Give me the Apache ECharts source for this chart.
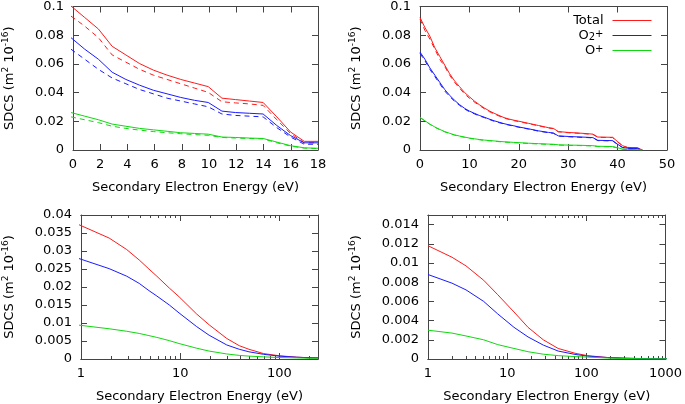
<!DOCTYPE html>
<html><head><meta charset="utf-8">
<script src="https://cdn.jsdelivr.net/npm/echarts@6/dist/echarts.min.js"></script>
<style>html,body{margin:0;padding:0;background:#fff}
#wrap{position:relative;width:685px;height:404px}
#axes,#plot{position:absolute;left:0;top:0;width:685px;height:404px}</style>
</head><body><div id="wrap"><div id="axes"></div><div id="plot"></div></div>
<script>
// ---------- DATA ----------
// Panel 1 (top-left): energy 0..18 eV, solid and dashed curves
const p1Energy = [0,1,2,3,4,5,6,7,8,9,10,11,12,13,14,15,16,17,18];
const p1TotalSolid = [0.100,0.092,0.084,0.072,0.066,0.060,0.0555,0.052,0.049,0.0465,0.044,0.036,0.035,0.034,0.033,0.023,0.0125,0.006,0.006];
const p1TotalDash  = [0.093,0.086,0.078,0.066,0.061,0.056,0.052,0.049,0.046,0.043,0.040,0.0335,0.0327,0.032,0.031,0.021,0.0115,0.005,0.005];
const p1O2Solid    = [0.078,0.070,0.063,0.054,0.049,0.045,0.0415,0.039,0.0365,0.0345,0.033,0.027,0.026,0.0255,0.025,0.017,0.010,0.005,0.005];
const p1O2Dash     = [0.070,0.063,0.056,0.050,0.046,0.042,0.039,0.036,0.034,0.032,0.030,0.025,0.024,0.0235,0.023,0.0155,0.009,0.004,0.004];
const p1OSolid     = [0.026,0.0235,0.021,0.018,0.0165,0.015,0.014,0.013,0.012,0.0115,0.011,0.009,0.0087,0.0083,0.008,0.0055,0.003,0.0015,0.0012];
const p1ODash      = [0.023,0.021,0.019,0.0165,0.015,0.0138,0.0128,0.012,0.0113,0.0107,0.0102,0.0087,0.0083,0.008,0.0077,0.005,0.0027,0.0013,0.001];

// Panel 2 (top-right): energy 0..45 eV
const p2Energy = [0,1,2,3,4,5,6,7,8,9,10,11,12,13,14,15,16,17,18,19,20,22,24,26,27,28,30,32,34,35,36,39,40,41,42,44,45];
const p2TotalSolid = [0.092,0.085,0.079,0.071,0.065,0.059,0.053,0.048,0.044,0.040,0.037,0.034,0.0315,0.0292,0.0272,0.0255,0.024,0.0225,0.0215,0.0207,0.020,0.0185,0.017,0.0155,0.015,0.0128,0.0122,0.0118,0.0113,0.011,0.009,0.0088,0.0058,0.003,0.0018,0.0016,0];
const p2TotalDash  = [0.091,0.083,0.077,0.070,0.063,0.058,0.052,0.047,0.043,0.039,0.036,0.0333,0.031,0.0287,0.0267,0.025,0.0236,0.0222,0.0212,0.0204,0.0197,0.0183,0.0168,0.0153,0.0148,0.0126,0.012,0.0116,0.0111,0.0108,0.0088,0.0086,0.0056,0.0029,0.0017,0.0015,0];
const p2O2Solid    = [0.068,0.063,0.057,0.052,0.047,0.042,0.038,0.0345,0.0315,0.029,0.027,0.0255,0.024,0.0228,0.0215,0.0203,0.0193,0.0183,0.0175,0.0168,0.016,0.0147,0.0133,0.0122,0.0118,0.0098,0.0094,0.0091,0.0088,0.0086,0.0067,0.0065,0.004,0.0018,0.0012,0.001,0];
const p2O2Dash     = [0.067,0.062,0.056,0.051,0.046,0.041,0.0372,0.0338,0.031,0.0285,0.0266,0.0251,0.0237,0.0225,0.0212,0.020,0.019,0.0181,0.0173,0.0166,0.0158,0.0145,0.0131,0.012,0.0116,0.0096,0.0092,0.0089,0.0086,0.0084,0.0065,0.0063,0.0038,0.0017,0.0011,0.0009,0];
const p2OSolid     = [0.0227,0.0203,0.018,0.016,0.0143,0.0128,0.0116,0.0105,0.0097,0.009,0.0083,0.0078,0.0073,0.0069,0.0066,0.0063,0.006,0.0057,0.0055,0.0053,0.0051,0.0047,0.0044,0.0041,0.004,0.0036,0.0034,0.0033,0.0031,0.003,0.0026,0.0024,0.0016,0.0006,0.0004,0.0002,0];
const p2ODash      = [0.0225,0.0201,0.0178,0.0158,0.0141,0.0126,0.0114,0.0103,0.0095,0.0088,0.0081,0.0076,0.0071,0.0067,0.0064,0.0061,0.0058,0.0055,0.0053,0.0051,0.0049,0.0045,0.0042,0.0039,0.0038,0.0034,0.0032,0.0031,0.0029,0.0028,0.0024,0.0022,0.0014,0.0005,0.0003,0.0001,0];

// Panel 3 (bottom-left): log energy 1..245 eV
const p3Energy = [1,2,3,4,5,6,8,10,15,20,30,40,50,70,100,150,200,245];
const p3Total  = [0.0373,0.0336,0.0304,0.0275,0.025,0.023,0.0197,0.0173,0.0125,0.0095,0.0057,0.0037,0.0027,0.0015,0.0009,0.0005,0.00035,0.0003];
const p3O2     = [0.0279,0.0251,0.023,0.021,0.019,0.0175,0.015,0.0128,0.009,0.0066,0.0039,0.0027,0.002,0.0013,0.0008,0.0005,0.00035,0.0003];
const p3O      = [0.0094,0.0084,0.0077,0.0071,0.0065,0.006,0.0051,0.0043,0.003,0.0022,0.0014,0.001,0.0008,0.0006,0.0004,0.0003,0.0002,0.0002];

// Panel 4 (bottom-right): log energy 1..1000 eV
const p4Energy = [1,2,3,5,7.5,12,18,28,43,70,100,180,300,500,1000];
const p4Total  = [0.0118,0.0106,0.0097,0.0082,0.0067,0.0049,0.0033,0.002,0.0011,0.0006,0.00035,0.00015,0.00008,0.00004,0.00001];
const p4O2     = [0.0088,0.0079,0.0072,0.006,0.0047,0.0033,0.0023,0.00145,0.00083,0.00048,0.0003,0.00015,0.00008,0.00004,0.00001];
const p4O      = [0.003,0.0027,0.0024,0.002,0.0015,0.0011,0.00076,0.0005,0.00035,0.00025,0.0002,0.0001,0.00005,0.00003,0.00001];

const legendNames = ['Total','O2+','O+'];
const xTitle = 'Secondary Electron Energy (eV)';
const yTitle = 'SDCS (m{sup|2} 10{sup|-16})';

// ---------- STYLE / LAYOUT ----------
const FONT = 'DejaVu Sans';
const AX = '#444';
const COL = {Total:'#ff1a1a','O2+':'#1a1aff','O+':'#10d810'};
const grids = [
  {left:71, top:6, width:247, height:144},
  {left:420, top:6, width:247, height:144},
  {left:79, top:215, width:239, height:144},
  {left:428, top:215, width:239, height:144}
];
const xScales = [
  {type:'value', min:0, max:18, interval:2},
  {type:'value', min:0, max:50, interval:10},
  {type:'log', logBase:10, min:1, max:245},
  {type:'log', logBase:10, min:1, max:1000}
];
const yScales = [
  {type:'value', min:0, max:0.1, interval:0.02},
  {type:'value', min:0, max:0.1, interval:0.02},
  {type:'value', min:0, max:0.04, interval:0.005},
  {type:'value', min:0, max:0.015, interval:0.002}
];
const logMaxOf = [null, null, 245, 1000];
const hideXMax = [false, false, true, false];
const hideYMax = [false, false, false, true];
const yGap = [54, 54, 62, 62];

const zip = (xs, ys) => xs.map((x,i)=>[x, ys[i]]);
const numFmt = (v)=>String(Math.round(v*1e6)/1e6);
function minorLogPositions(max){
  const v=[]; for(let d=1; d<=1000; d*=10){ for(let k=2;k<=9;k++){ if(k*d<max) v.push(Math.log10(k*d));} } return v;
}
const mkTick = (len, custom)=>{
  const t = {show:true, inside:true, length:len, lineStyle:{color:AX}};
  if(custom) t.customValues = custom;
  return t;
};
const mkLine = ()=>({show:true, onZero:false, lineStyle:{color:AX, width:1}});

// ---------- instance A: frame, ticks, labels, titles ----------
const axX=[], axY=[];
grids.forEach((g,gi)=>{
  const s = xScales[gi];
  axX.push(Object.assign({gridIndex:gi, position:'bottom', splitLine:{show:false}, axisLine:mkLine(), axisTick:mkTick(6),
    axisLabel:Object.assign({color:'#000', fontSize:13, fontFamily:FONT, margin:8, formatter:numFmt}, hideXMax[gi]?{showMaxLabel:false}:{}),
    name:xTitle, nameLocation:'middle', nameGap:31, nameTextStyle:{fontSize:13, fontFamily:FONT, color:'#000'}}, s));
  axX.push(Object.assign({gridIndex:gi, position:'top', splitLine:{show:false}, axisLine:mkLine(), axisTick:mkTick(6), axisLabel:{show:false}}, s));
  if(logMaxOf[gi]){
    const mp = minorLogPositions(logMaxOf[gi]);
    ['bottom','top'].forEach(p=>axX.push({gridIndex:gi, type:'value', min:0, max:Math.log10(logMaxOf[gi]), position:p,
      splitLine:{show:false}, axisLine:mkLine(), axisTick:mkTick(3, mp), axisLabel:{show:false}}));
  }
  const ys = yScales[gi];
  axY.push(Object.assign({gridIndex:gi, position:'left', splitLine:{show:false}, axisLine:mkLine(), axisTick:mkTick(6),
    axisLabel:Object.assign({color:'#000', fontSize:13, fontFamily:FONT, margin:9, formatter:numFmt}, hideYMax[gi]?{showMaxLabel:false}:{}),
    name:yTitle, nameLocation:'middle', nameGap:yGap[gi],
    nameTextStyle:{fontSize:13, fontFamily:FONT, color:'#000', lineHeight:18,
      rich:{sup:{fontSize:9, lineHeight:9, verticalAlign:'top', fontFamily:FONT, color:'#000'}}}}, ys));
  axY.push(Object.assign({gridIndex:gi, position:'right', splitLine:{show:false}, axisLine:mkLine(), axisTick:mkTick(6), axisLabel:{show:false}}, ys));
});
const chartA = echarts.init(document.getElementById('axes'));
chartA.setOption({animation:false, grid:grids.map(g=>Object.assign({}, g)), xAxis:axX, yAxis:axY});

// ---------- instance B: curves and legend ----------
const series = [];
function addSeries(gi, name, xs, ys, dashed){
  series.push({
    type:'line', name:name, xAxisIndex:gi, yAxisIndex:gi,
    data:zip(xs, ys), symbol:'none', showSymbol:false, silent:true,
    lineStyle:{color:COL[name], width:1, type: dashed?[5,4]:'solid'},
    itemStyle:{color:COL[name]}
  });
}
addSeries(0,'Total',p1Energy,p1TotalSolid,false);
addSeries(0,'Total',p1Energy,p1TotalDash,true);
addSeries(0,'O2+',p1Energy,p1O2Solid,false);
addSeries(0,'O2+',p1Energy,p1O2Dash,true);
addSeries(0,'O+',p1Energy,p1OSolid,false);
addSeries(0,'O+',p1Energy,p1ODash,true);
addSeries(1,'Total',p2Energy,p2TotalSolid,false);
addSeries(1,'Total',p2Energy,p2TotalDash,true);
addSeries(1,'O2+',p2Energy,p2O2Solid,false);
addSeries(1,'O2+',p2Energy,p2O2Dash,true);
addSeries(1,'O+',p2Energy,p2OSolid,false);
addSeries(1,'O+',p2Energy,p2ODash,true);
addSeries(2,'Total',p3Energy,p3Total,false);
addSeries(2,'O2+',p3Energy,p3O2,false);
addSeries(2,'O+',p3Energy,p3O,false);
addSeries(3,'Total',p4Energy,p4Total,false);
addSeries(3,'O2+',p4Energy,p4O2,false);
addSeries(3,'O+',p4Energy,p4O,false);

const legendLabel = {'Total':'Total', 'O2+':'O{sub|2}{sup|+}', 'O+':'O{sup|+}'};
const chartB = echarts.init(document.getElementById('plot'));
chartB.setOption({
  animation:false,
  backgroundColor:'transparent',
  grid:grids.map(g=>Object.assign({}, g)),
  xAxis:xScales.map((s,gi)=>Object.assign({gridIndex:gi, show:false}, s)),
  yAxis:yScales.map((s,gi)=>Object.assign({gridIndex:gi, show:false}, s)),
  legend:{
    data:legendNames,
    orient:'vertical', right:28, top:9, align:'right',
    itemWidth:39, itemHeight:8, itemGap:2, selectedMode:false,
    itemStyle:{opacity:0, borderWidth:0},
    lineStyle:{width:1},
    formatter:(n)=>legendLabel[n],
    textStyle:{fontSize:13, fontFamily:FONT, color:'#000', lineHeight:13, padding:[0,4,0,0],
      rich:{
        sub:{fontSize:10, lineHeight:13, verticalAlign:'bottom', fontFamily:FONT, color:'#000'},
        sup:{fontSize:10, lineHeight:10, verticalAlign:'top', fontFamily:FONT, color:'#000'}
      }}
  },
  series:series
});
</script></body></html>
